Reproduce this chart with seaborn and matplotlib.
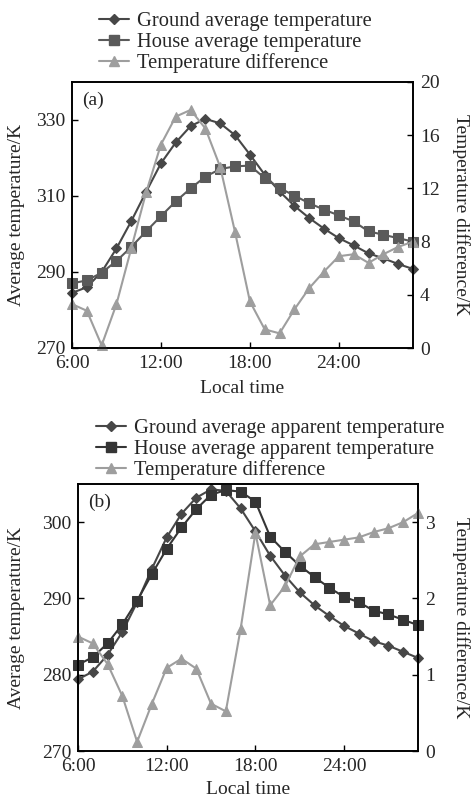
import numpy as np
import pandas as pd
import matplotlib
matplotlib.use("Agg")
import matplotlib.pyplot as plt
import seaborn as sns
from matplotlib.lines import Line2D

# ---------------- data ----------------
hours = list(range(6, 30))
xticks = [6, 12, 18, 24]
xticklabels = ["6:00", "12:00", "18:00", "24:00"]

ground_a = [284.5, 286.0, 290.0, 296.2, 303.4, 311.1, 318.6, 324.1, 328.4, 330.3, 329.1, 326.0,
            320.9, 315.6, 311.2, 307.4, 304.2, 301.4, 298.9, 297.0, 294.9, 293.6, 292.1, 290.8]
house_a = [287.0, 287.8, 289.8, 292.9, 296.6, 300.7, 304.7, 308.6, 312.0, 315.1, 317.1, 317.8,
           318.0, 314.7, 312.1, 310.1, 308.1, 306.4, 304.9, 303.3, 300.7, 299.8, 298.9, 298.0]
diff_a = [3.3, 2.8, 0.2, 3.3, 7.5, 11.7, 15.3, 17.4, 17.9, 16.5, 13.6, 8.7,
          3.5, 1.4, 1.1, 2.9, 4.5, 5.75, 6.9, 7.05, 6.4, 7.05, 7.6, 8.0]

ground_b = [279.4, 280.4, 282.6, 285.6, 289.5, 293.9, 298.0, 301.1, 303.2, 304.3, 304.1, 301.8,
            298.8, 295.6, 293.0, 290.8, 289.1, 287.7, 286.4, 285.4, 284.4, 283.8, 283.0, 282.2]
house_b = [281.3, 282.3, 284.1, 286.6, 289.7, 293.2, 296.5, 299.3, 301.7, 303.6, 304.2, 304.0,
           302.7, 298.1, 296.1, 294.3, 292.8, 291.4, 290.2, 289.5, 288.4, 287.9, 287.2, 286.5]
diff_b = [1.50, 1.41, 1.14, 0.72, 0.12, 0.62, 1.09, 1.21, 1.08, 0.62, 0.52, 1.60,
          2.86, 1.91, 2.16, 2.55, 2.71, 2.74, 2.77, 2.80, 2.87, 2.92, 3.00, 3.12]

labels_a = ["Ground average temperature", "House average temperature", "Temperature difference"]
labels_b = ["Ground average apparent temperature", "House average apparent temperature",
            "Temperature difference"]

# ---------------- style ----------------
sns.set_style("ticks")
plt.rcParams["font.family"] = ["Liberation Serif", "DejaVu Serif"]

FS = 14
LFS = 14.8
W, H = 475, 800
fig = plt.figure(figsize=(W / 100, H / 100), dpi=100)

c_ground = "#474747"
c_house_a = "#5a5a5a"
c_house_b = "#353535"
c_diff = "#9e9e9e"


def ax_rect(l, r, t, b):
    return [l / W, 1 - b / H, (r - l) / W, (b - t) / H]


def panel(px, ground, house, diff, labels, ylim, yticks, ylim2, yticks2, house_color,
          tag, leg_xy, xlab_px):
    l, r, t, b = px
    ax = fig.add_axes(ax_rect(l, r, t, b))
    ax2 = ax.twinx()
    df = pd.DataFrame({"hour": hours, "ground": ground, "house": house, "diff": diff})
    sns.lineplot(data=df, x="hour", y="ground", ax=ax, color=c_ground, marker="D",
                 markersize=5.5, markeredgecolor=c_ground, linewidth=1.5, clip_on=False)
    sns.lineplot(data=df, x="hour", y="house", ax=ax, color=house_color, marker="s",
                 markersize=7.5, markeredgecolor=house_color, linewidth=1.5, clip_on=False)
    sns.lineplot(data=df, x="hour", y="diff", ax=ax2, color=c_diff, marker="^",
                 markersize=7.5, markeredgecolor=c_diff, linewidth=1.5, clip_on=False)
    ax.set_xlim(6, 29)
    ax.set_ylim(*ylim)
    ax.set_yticks(yticks)
    ax2.set_ylim(*ylim2)
    ax2.set_yticks(yticks2)
    ax.set_xticks(xticks)
    ax.set_xticklabels(xticklabels)
    for a in (ax, ax2):
        a.tick_params(direction="in", length=4, width=1, labelsize=FS, pad=5, color="black")
        for s in a.spines.values():
            s.set_visible(True)
            s.set_linewidth(1.2)
            s.set_color("black")
    hpx = b - t
    wpx = r - l
    ax.set_xlabel("Local time", fontsize=FS, va="center")
    ax.xaxis.set_label_coords(0.5, -(xlab_px - b) / hpx)
    ax.set_ylabel("Average temperature/K", fontsize=FS, rotation=90, va="center", ha="center")
    ax.yaxis.set_label_coords((17 - l) / wpx, 0.5)
    ax2.set_ylabel("Temperature difference/K", fontsize=FS, rotation=270, va="center", ha="center")
    ax2.yaxis.set_label_coords((461 - l) / wpx, 0.5)
    ax.text(0.03, 0.93, tag, transform=ax.transAxes, fontsize=FS, va="center", ha="left")
    handles = [
        Line2D([], [], color=c_ground, marker="D", markersize=5.5, linewidth=1.5),
        Line2D([], [], color=house_color, marker="s", markersize=7.5, linewidth=1.5),
        Line2D([], [], color=c_diff, marker="^", markersize=7.5, linewidth=1.5),
    ]
    fig.legend(handles, labels, loc="upper left",
               bbox_to_anchor=(leg_xy[0] / W, 1 - leg_xy[1] / H), frameon=False,
               fontsize=LFS, borderpad=0, borderaxespad=0, handlelength=1.45,
               handletextpad=0.4, labelspacing=0.05)
    return ax, ax2


panel((72, 413, 82, 348), ground_a, house_a, diff_a, labels_a,
      (270, 340), [270, 290, 310, 330], (0, 20), [0, 4, 8, 12, 16, 20],
      c_house_a, "(a)", (99, 12), 388)
panel((78, 418, 484, 751), ground_b, house_b, diff_b, labels_b,
      (270, 305), [270, 280, 290, 300], (0, 3.5), [0, 1, 2, 3],
      c_house_b, "(b)", (96, 419), 790)

fig.savefig("out.png", dpi=100)
